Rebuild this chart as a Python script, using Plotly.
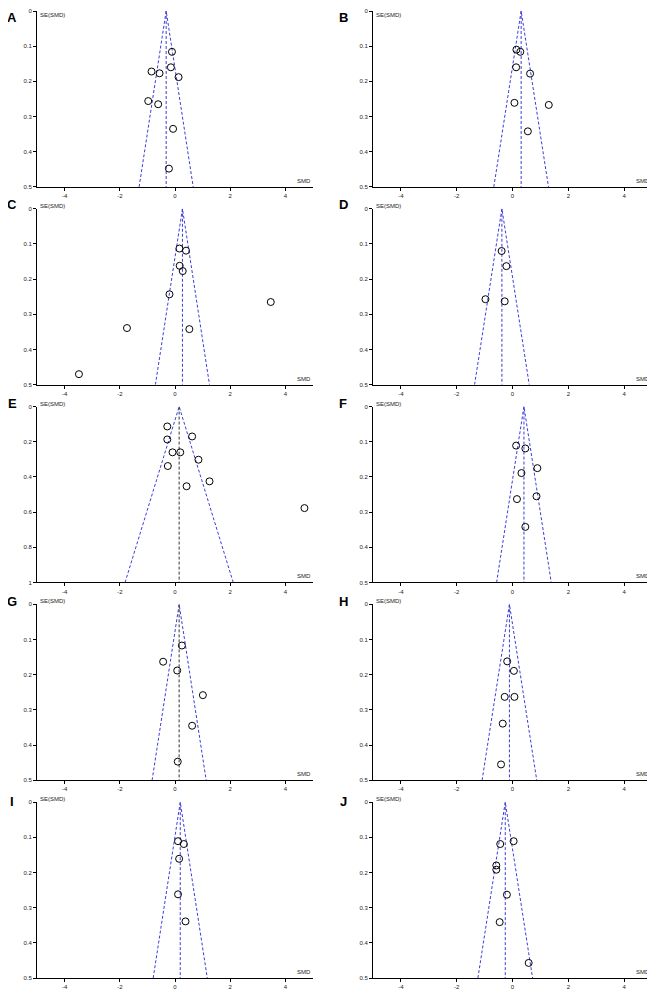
import plotly.graph_objects as go

# Funnel plots, SE(SMD) vs SMD, one per panel
labels = ["A", "B", "C", "D", "E", "F", "G", "H", "I", "J"]

a_smd = [-0.11, -0.15, -0.85, -0.56, 0.13, -0.97, -0.61, -0.07, -0.22]
a_se = [0.116, 0.160, 0.172, 0.177, 0.188, 0.256, 0.265, 0.335, 0.448]

b_smd = [0.14, 0.28, 0.13, 0.63, 0.07, 1.30, 0.55]
b_se = [0.110, 0.116, 0.160, 0.178, 0.261, 0.267, 0.342]

c_smd = [0.16, 0.40, 0.17, 0.28, -0.20, 3.47, -1.74, 0.52, -3.48]
c_se = [0.113, 0.119, 0.162, 0.177, 0.243, 0.265, 0.339, 0.342, 0.470]

d_smd = [-0.39, -0.22, -0.97, -0.28]
d_se = [0.120, 0.163, 0.257, 0.263]

e_smd = [-0.28, 0.62, -0.28, -0.09, 0.19, 0.85, -0.26, 1.25, 0.42, 4.69]
e_se = [0.113, 0.170, 0.187, 0.260, 0.260, 0.302, 0.338, 0.425, 0.453, 0.577]

f_smd = [0.13, 0.46, 0.89, 0.32, 0.86, 0.16, 0.46]
f_se = [0.111, 0.119, 0.175, 0.189, 0.255, 0.263, 0.342]

g_smd = [0.25, -0.43, 0.08, 1.01, 0.62, 0.10]
g_se = [0.117, 0.163, 0.188, 0.258, 0.345, 0.447]

h_smd = [-0.19, 0.05, -0.28, 0.07, -0.35, -0.41]
h_se = [0.162, 0.189, 0.263, 0.263, 0.339, 0.455]

i_smd = [0.11, 0.32, 0.15, 0.11, 0.38]
i_se = [0.111, 0.119, 0.161, 0.262, 0.339]

j_smd = [-0.44, 0.04, -0.58, -0.58, -0.20, -0.46, 0.58]
j_se = [0.119, 0.111, 0.180, 0.192, 0.263, 0.341, 0.457]

# pooled SMD (vertical line) and SE axis maximum for each panel
pooled = [-0.32, 0.31, 0.27, -0.38, 0.15, 0.41, 0.15, -0.11, 0.19, -0.26]
se_max = [0.5, 0.5, 0.5, 0.5, 1.0, 0.5, 0.5, 0.5, 0.5, 0.5]

smds = [a_smd, b_smd, c_smd, d_smd, e_smd, f_smd, g_smd, h_smd, i_smd, j_smd]
ses = [a_se, b_se, c_se, d_se, e_se, f_se, g_se, h_se, i_se, j_se]

# the page body has an 8px margin, so the figure is drawn 8px smaller
OFF = 8
W, H = 655 - OFF, 992 - OFF
blue = "#3c3cdc"
font = "Liberation Sans, Arial, sans-serif"


def px(x):
    return (x - OFF) / W


def py(y):
    return 1 - (y - OFF) / H


fig = go.Figure()

col_x = [(37, 313), (373, 652)]
letter_x = [12, 343]
letter_y = [15, 203, 403, 602, 803]

for k in range(10):
    row, col = k // 2, k % 2
    n = k + 1
    xa = "x" if n == 1 else f"x{n}"
    ya = "y" if n == 1 else f"y{n}"
    top = 8 + 199 * row
    bot = top + 177
    x0, x1 = col_x[col]
    m = pooled[k]
    ymax = se_max[k]
    vcol = "#333333" if labels[k] in ("E", "G") else blue

    # pseudo 95% confidence funnel
    fig.add_trace(go.Scatter(
        x=[m - 1.96 * ymax, m, m + 1.96 * ymax], y=[ymax, 0, ymax],
        mode="lines", line=dict(color=blue, width=1, dash="3px,2px"),
        xaxis=xa, yaxis=ya, showlegend=False, hoverinfo="skip"))
    fig.add_trace(go.Scatter(
        x=[m, m], y=[0, ymax], mode="lines",
        line=dict(color=vcol, width=1, dash="3px,2px"),
        xaxis=xa, yaxis=ya, showlegend=False, hoverinfo="skip"))
    fig.add_trace(go.Scatter(
        x=smds[k], y=ses[k], mode="markers",
        marker=dict(symbol="circle-open", size=7, color="black",
                    line=dict(width=1, color="black")),
        xaxis=xa, yaxis=ya, showlegend=False))

    ystep = 0.2 if ymax > 0.5 else 0.1
    yt = [round(i * ystep, 1) for i in range(int(round(ymax / ystep)) + 1)]
    axis_common = dict(showline=True, linecolor="black", linewidth=1,
                       ticks="outside", ticklen=3, tickcolor="black",
                       tickwidth=1, showgrid=False, zeroline=False,
                       tickfont=dict(size=6, family=font, color="#222"))
    fig.layout[("xaxis" if n == 1 else f"xaxis{n}")] = dict(
        domain=[px(x0), px(x1)], anchor=ya, range=[-5, 5],
        tickvals=[-4, -2, 0, 2, 4], ticktext=["-4", "-2", "0", "2", "4"],
        **axis_common)
    fig.layout[("yaxis" if n == 1 else f"yaxis{n}")] = dict(
        domain=[py(bot), py(top)], anchor=xa, range=[ymax, 0],
        tickvals=yt, ticktext=[("%g" % v) for v in yt], **axis_common)

    # top row has no room above the plot, so its label sits just inside
    fig.add_annotation(text="SE(SMD)", xref=f"{xa} domain", yref=f"{ya} domain",
                       x=0, y=1, xanchor="left",
                       yanchor="top" if row == 0 else "middle", xshift=2,
                       yshift=0 if row == 0 else 3, borderpad=0, showarrow=False,
                       font=dict(size=6, family=font, color="#222"))
    fig.add_annotation(text="SMD", xref=f"{xa} domain", yref=f"{ya} domain",
                       x=1, y=0, xanchor="right", yanchor="bottom", yshift=1,
                       showarrow=False, font=dict(size=6, family=font, color="#222"))
    fig.add_annotation(text=f"<b>{labels[k]}</b>", xref="paper", yref="paper",
                       x=px(letter_x[col]), y=py(letter_y[row]),
                       xanchor="center", yanchor="middle", showarrow=False,
                       font=dict(size=13, family=font, color="black"))

fig.update_layout(width=W, height=H, margin=dict(l=0, r=0, t=0, b=0),
                  plot_bgcolor="white", paper_bgcolor="white")

fig.write_html("out.html")
